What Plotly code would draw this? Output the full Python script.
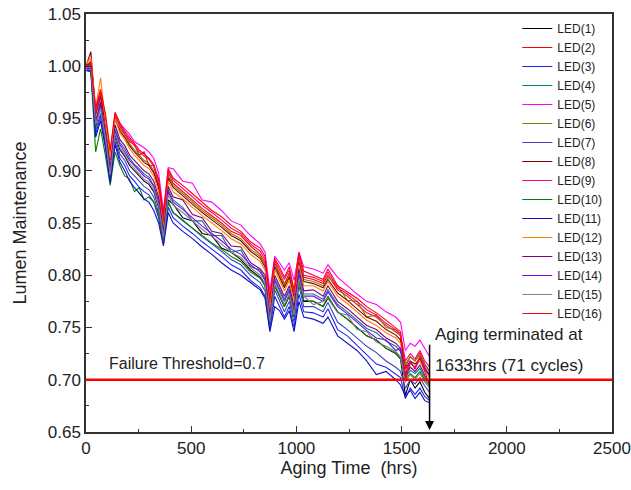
import plotly.graph_objects as go

hours = [0, 23, 46, 69, 92, 115, 138, 161, 184, 207, 230, 253, 276, 299, 322, 345, 368, 391, 414, 460,
         506, 552, 598, 644, 690, 736, 782, 828, 851, 874, 897, 920, 943, 966, 989, 1012, 1035, 1081,
         1127, 1150, 1196, 1242, 1288, 1334, 1380, 1426, 1472, 1495, 1518, 1541, 1564, 1587, 1610, 1633]

led_names = [f"LED({i})" for i in range(1, 17)]
led_colors = ["#000000", "#FF0000", "#2020FF", "#008080", "#FF00FF", "#808000", "#4040C0", "#800000",
              "#FF0080", "#008000", "#1010C0", "#FF8000", "#800080", "#8000FF", "#808080", "#FF0000"]

led1 = [0.998, 1.000, 0.942, 0.962, 0.930, 0.895, 0.935, 0.920, 0.914, 0.905, 0.900, 0.895, 0.890, 0.887, 0.880, 0.865, 0.835, 0.872, 0.868, 0.855, 0.852, 0.840, 0.838, 0.826, 0.822, 0.815, 0.805, 0.798, 0.790, 0.752, 0.790, 0.780, 0.770, 0.780, 0.760, 0.795, 0.775, 0.775, 0.770, 0.778, 0.765, 0.758, 0.750, 0.742, 0.738, 0.730, 0.725, 0.720, 0.685, 0.700, 0.692, 0.698, 0.688, 0.682]
led2 = [1.000, 1.005, 0.958, 0.975, 0.950, 0.915, 0.955, 0.942, 0.935, 0.928, 0.925, 0.915, 0.918, 0.905, 0.905, 0.885, 0.855, 0.898, 0.888, 0.880, 0.872, 0.864, 0.857, 0.850, 0.842, 0.838, 0.828, 0.820, 0.812, 0.772, 0.812, 0.802, 0.792, 0.802, 0.780, 0.818, 0.798, 0.796, 0.792, 0.800, 0.786, 0.780, 0.772, 0.764, 0.760, 0.752, 0.746, 0.742, 0.712, 0.722, 0.718, 0.726, 0.715, 0.708]
led3 = [0.996, 0.996, 0.935, 0.952, 0.925, 0.890, 0.928, 0.912, 0.905, 0.895, 0.890, 0.884, 0.880, 0.877, 0.870, 0.855, 0.830, 0.865, 0.855, 0.847, 0.840, 0.832, 0.825, 0.818, 0.810, 0.805, 0.795, 0.788, 0.780, 0.748, 0.780, 0.770, 0.760, 0.770, 0.750, 0.782, 0.765, 0.764, 0.760, 0.768, 0.748, 0.742, 0.733, 0.725, 0.715, 0.712, 0.705, 0.702, 0.682, 0.692, 0.686, 0.692, 0.684, 0.680]
led4 = [0.998, 1.000, 0.946, 0.964, 0.936, 0.900, 0.940, 0.927, 0.921, 0.912, 0.906, 0.902, 0.897, 0.894, 0.886, 0.872, 0.840, 0.882, 0.872, 0.865, 0.852, 0.852, 0.838, 0.838, 0.822, 0.824, 0.808, 0.805, 0.797, 0.760, 0.797, 0.787, 0.777, 0.787, 0.767, 0.802, 0.782, 0.782, 0.777, 0.786, 0.772, 0.765, 0.757, 0.749, 0.745, 0.737, 0.732, 0.727, 0.702, 0.709, 0.706, 0.711, 0.702, 0.696]
led5 = [1.000, 1.002, 0.955, 0.972, 0.948, 0.918, 0.950, 0.945, 0.940, 0.935, 0.928, 0.925, 0.922, 0.918, 0.912, 0.898, 0.862, 0.903, 0.902, 0.890, 0.888, 0.872, 0.870, 0.862, 0.852, 0.848, 0.838, 0.830, 0.822, 0.785, 0.818, 0.812, 0.805, 0.812, 0.795, 0.822, 0.808, 0.806, 0.802, 0.810, 0.798, 0.790, 0.782, 0.775, 0.772, 0.765, 0.760, 0.755, 0.728, 0.735, 0.732, 0.738, 0.730, 0.722]
led6 = [0.998, 1.000, 0.953, 0.970, 0.946, 0.912, 0.948, 0.940, 0.934, 0.926, 0.920, 0.915, 0.910, 0.907, 0.900, 0.886, 0.850, 0.895, 0.886, 0.878, 0.870, 0.862, 0.855, 0.848, 0.840, 0.835, 0.825, 0.818, 0.810, 0.772, 0.810, 0.800, 0.790, 0.800, 0.780, 0.815, 0.796, 0.794, 0.790, 0.798, 0.790, 0.776, 0.775, 0.760, 0.762, 0.750, 0.748, 0.742, 0.715, 0.722, 0.718, 0.724, 0.714, 0.708]
led7 = [0.998, 0.998, 0.938, 0.955, 0.928, 0.893, 0.932, 0.916, 0.910, 0.900, 0.895, 0.890, 0.885, 0.882, 0.875, 0.860, 0.832, 0.870, 0.860, 0.853, 0.845, 0.837, 0.830, 0.823, 0.815, 0.810, 0.800, 0.793, 0.785, 0.750, 0.786, 0.775, 0.765, 0.775, 0.755, 0.790, 0.770, 0.770, 0.765, 0.774, 0.755, 0.748, 0.740, 0.732, 0.726, 0.718, 0.712, 0.708, 0.692, 0.700, 0.696, 0.702, 0.694, 0.688]
led8 = [1.000, 1.014, 0.955, 0.972, 0.945, 0.910, 0.950, 0.938, 0.932, 0.924, 0.918, 0.913, 0.908, 0.905, 0.898, 0.884, 0.850, 0.893, 0.884, 0.876, 0.868, 0.860, 0.853, 0.846, 0.838, 0.833, 0.823, 0.816, 0.808, 0.770, 0.808, 0.798, 0.788, 0.798, 0.778, 0.812, 0.794, 0.792, 0.788, 0.796, 0.783, 0.776, 0.768, 0.760, 0.756, 0.748, 0.743, 0.738, 0.710, 0.718, 0.715, 0.720, 0.710, 0.704]
led9 = [1.000, 1.003, 0.956, 0.974, 0.952, 0.916, 0.952, 0.944, 0.936, 0.930, 0.924, 0.918, 0.914, 0.911, 0.904, 0.890, 0.856, 0.900, 0.891, 0.883, 0.875, 0.867, 0.860, 0.853, 0.845, 0.840, 0.830, 0.823, 0.815, 0.776, 0.814, 0.805, 0.796, 0.805, 0.783, 0.820, 0.800, 0.798, 0.794, 0.803, 0.788, 0.782, 0.775, 0.767, 0.762, 0.754, 0.748, 0.744, 0.718, 0.725, 0.720, 0.728, 0.718, 0.712]
led10 = [0.996, 0.995, 0.918, 0.940, 0.915, 0.886, 0.918, 0.905, 0.895, 0.892, 0.880, 0.884, 0.872, 0.875, 0.870, 0.858, 0.834, 0.870, 0.860, 0.852, 0.845, 0.838, 0.831, 0.825, 0.818, 0.813, 0.803, 0.797, 0.790, 0.755, 0.790, 0.780, 0.770, 0.780, 0.760, 0.795, 0.776, 0.775, 0.770, 0.780, 0.765, 0.758, 0.750, 0.742, 0.738, 0.730, 0.726, 0.720, 0.700, 0.706, 0.702, 0.708, 0.700, 0.694]
led11 = [0.996, 0.995, 0.932, 0.948, 0.922, 0.888, 0.925, 0.908, 0.900, 0.890, 0.884, 0.878, 0.873, 0.870, 0.862, 0.850, 0.828, 0.860, 0.850, 0.842, 0.835, 0.827, 0.820, 0.812, 0.805, 0.800, 0.793, 0.786, 0.778, 0.746, 0.770, 0.766, 0.758, 0.766, 0.746, 0.775, 0.760, 0.758, 0.754, 0.760, 0.742, 0.735, 0.728, 0.718, 0.705, 0.708, 0.700, 0.695, 0.684, 0.690, 0.682, 0.688, 0.680, 0.678]
led12 = [1.002, 1.008, 0.960, 0.989, 0.948, 0.912, 0.950, 0.936, 0.930, 0.921, 0.915, 0.910, 0.905, 0.902, 0.895, 0.880, 0.846, 0.890, 0.880, 0.873, 0.865, 0.857, 0.850, 0.843, 0.835, 0.830, 0.820, 0.813, 0.805, 0.768, 0.805, 0.795, 0.785, 0.795, 0.775, 0.810, 0.790, 0.790, 0.785, 0.794, 0.780, 0.773, 0.765, 0.757, 0.752, 0.745, 0.740, 0.735, 0.708, 0.716, 0.712, 0.718, 0.708, 0.702]
led13 = [1.000, 1.002, 0.948, 0.966, 0.938, 0.903, 0.944, 0.930, 0.924, 0.915, 0.910, 0.905, 0.900, 0.897, 0.890, 0.875, 0.842, 0.885, 0.875, 0.872, 0.858, 0.855, 0.842, 0.840, 0.828, 0.827, 0.812, 0.806, 0.800, 0.762, 0.800, 0.790, 0.780, 0.790, 0.770, 0.806, 0.785, 0.786, 0.780, 0.790, 0.775, 0.768, 0.760, 0.752, 0.748, 0.740, 0.735, 0.730, 0.704, 0.712, 0.708, 0.714, 0.704, 0.698]
led14 = [0.996, 0.998, 0.945, 0.962, 0.934, 0.898, 0.938, 0.925, 0.918, 0.910, 0.905, 0.900, 0.895, 0.892, 0.885, 0.870, 0.838, 0.880, 0.870, 0.863, 0.855, 0.847, 0.840, 0.833, 0.825, 0.820, 0.810, 0.803, 0.795, 0.758, 0.795, 0.785, 0.775, 0.785, 0.765, 0.800, 0.780, 0.780, 0.775, 0.784, 0.770, 0.763, 0.755, 0.747, 0.740, 0.738, 0.728, 0.730, 0.705, 0.718, 0.710, 0.722, 0.712, 0.705]
led15 = [0.998, 1.000, 0.944, 0.960, 0.932, 0.896, 0.936, 0.922, 0.916, 0.907, 0.902, 0.897, 0.892, 0.889, 0.882, 0.867, 0.836, 0.877, 0.867, 0.860, 0.852, 0.844, 0.837, 0.830, 0.822, 0.817, 0.807, 0.800, 0.792, 0.756, 0.792, 0.782, 0.772, 0.782, 0.762, 0.797, 0.780, 0.772, 0.775, 0.778, 0.764, 0.762, 0.748, 0.746, 0.736, 0.732, 0.727, 0.722, 0.698, 0.705, 0.700, 0.706, 0.698, 0.692]
led16 = [1.000, 1.004, 0.960, 0.978, 0.955, 0.920, 0.956, 0.946, 0.938, 0.932, 0.926, 0.920, 0.916, 0.912, 0.906, 0.892, 0.858, 0.902, 0.893, 0.886, 0.878, 0.870, 0.862, 0.856, 0.848, 0.842, 0.832, 0.826, 0.818, 0.778, 0.816, 0.808, 0.798, 0.808, 0.786, 0.822, 0.804, 0.800, 0.796, 0.806, 0.790, 0.784, 0.778, 0.770, 0.764, 0.757, 0.750, 0.746, 0.700, 0.716, 0.712, 0.722, 0.708, 0.695]

led_values = [led1, led2, led3, led4, led5, led6, led7, led8,
              led9, led10, led11, led12, led13, led14, led15, led16]

threshold = 0.7
end_hours = 1633

x_ticks = [0, 500, 1000, 1500, 2000, 2500]
y_ticks = [0.65, 0.70, 0.75, 0.80, 0.85, 0.90, 0.95, 1.00, 1.05]

fig = go.Figure()
for name, color, vals in zip(led_names, led_colors, led_values):
    fig.add_trace(go.Scatter(x=hours, y=vals, mode="lines", name=name,
                             line=dict(color=color, width=1.1)))

fig.add_hline(y=threshold, line=dict(color="#FF0000", width=2.5), layer="above")

narrow = "Liberation Sans Narrow, Arial Narrow, Liberation Sans, Arial"
fig.add_annotation(x=end_hours, y=0.652, ax=end_hours, ay=0.735, xref="x", yref="y",
                   axref="x", ayref="y", showarrow=True, arrowhead=2, arrowsize=1.2,
                   arrowwidth=1.5, arrowcolor="black", text="")
fig.add_annotation(x=1648, y=0.743, xref="x", yref="y", text="Aging terminated at",
                   showarrow=False, xanchor="left", font=dict(family=narrow, size=17, color="#222"))
fig.add_annotation(x=1648, y=0.714, xref="x", yref="y", text="1633hrs (71 cycles)",
                   showarrow=False, xanchor="left", font=dict(family=narrow, size=17, color="#222"))
fig.add_annotation(x=100, y=0.716, xref="x", yref="y", text="Failure Threshold=0.7",
                   showarrow=False, xanchor="left", font=dict(family="Liberation Sans, Arial", size=16, color="#222"))

axis_common = dict(showline=True, linecolor="#333", linewidth=1.5, mirror=True, automargin=False,
                   showgrid=False, zeroline=False, ticks="inside", ticklen=6,
                   tickcolor="#333", tickfont=dict(family="Liberation Sans, Arial", size=17, color="#222"))

fig.update_layout(
    width=631, height=490,
    margin=dict(l=86, r=19, t=14, b=58),
    paper_bgcolor="white", plot_bgcolor="white",
    showlegend=True,
    legend=dict(x=0.82, y=1.0, xanchor="left", yanchor="top", bgcolor="rgba(0,0,0,0)",
                font=dict(family="Liberation Sans, Arial", size=12, color="#222"),
                tracegroupgap=0, itemwidth=30),
    xaxis=dict(range=[0, 2500], tickvals=x_ticks, ticktext=[str(v) for v in x_ticks],
               minor=dict(ticks="inside", ticklen=3, dtick=250, tickcolor="#333"),
               title=dict(text="Aging Time  (hrs)", font=dict(family="Liberation Sans, Arial", size=18, color="#222"), standoff=3),
               **axis_common),
    yaxis=dict(range=[0.65, 1.05], tickvals=y_ticks, ticktext=[f"{v:.2f}" for v in y_ticks],
               minor=dict(ticks="inside", ticklen=3, dtick=0.025, tickcolor="#333"),
               title=dict(text="Lumen Maintenance", font=dict(family="Liberation Sans, Arial", size=18, color="#222"), standoff=16),
               **axis_common),
)

fig.write_html("out.html", config={"responsive": False, "displayModeBar": False},
               post_script="document.body.style.margin='0';document.body.style.overflow='hidden';")
